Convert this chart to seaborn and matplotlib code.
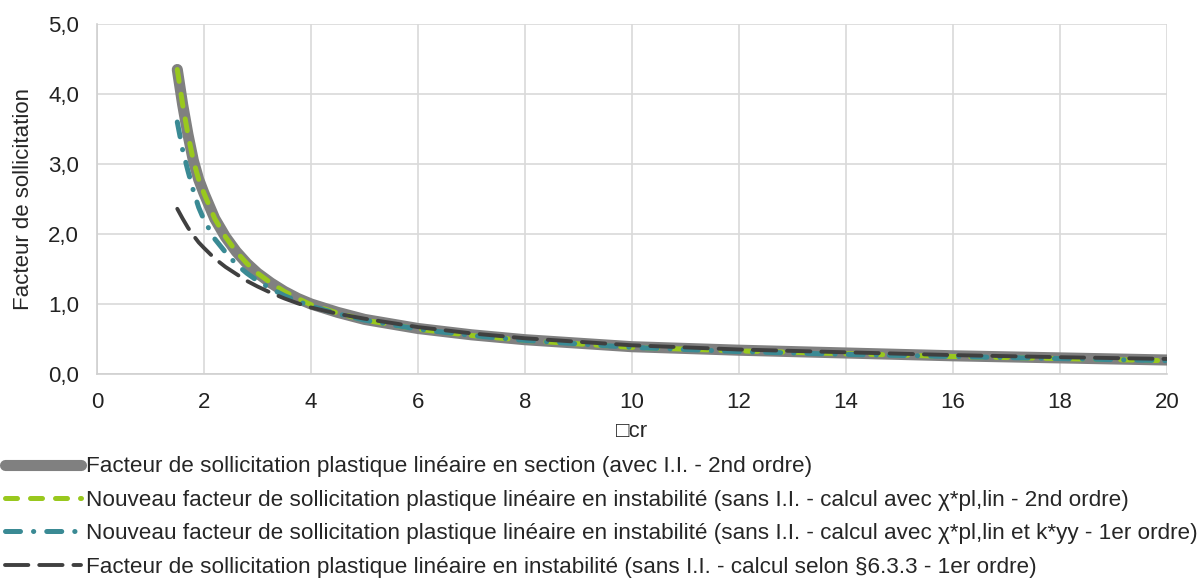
import numpy as np
import matplotlib
matplotlib.use("Agg")
import matplotlib.pyplot as plt
import matplotlib.ticker as mticker
import pandas as pd
import seaborn as sns

# values
alpha_cr = [1.5, 1.6, 1.7, 1.8, 1.9, 2.0, 2.2, 2.4, 2.6, 2.8, 3.0, 3.25, 3.5, 3.75, 4.0,
            4.5, 5, 6, 7, 8, 10, 12, 14, 16, 18, 20]
section_2nd = [4.35, 3.85, 3.42, 3.05, 2.78, 2.58, 2.22, 1.96, 1.75, 1.58, 1.44, 1.30, 1.18, 1.08, 1.0,
               0.88, 0.78, 0.65, 0.56, 0.49, 0.39, 0.34, 0.30, 0.26, 0.23, 0.20]
instab_chi_2nd = [4.35, 3.85, 3.42, 3.05, 2.78, 2.58, 2.22, 1.96, 1.75, 1.58, 1.44, 1.30, 1.18, 1.08, 0.99,
                  0.87, 0.77, 0.64, 0.55, 0.48, 0.38, 0.33, 0.29, 0.25, 0.22, 0.19]
instab_chi_kyy_1er = [3.6, 3.2, 2.9, 2.62, 2.38, 2.2, 1.93, 1.74, 1.57, 1.44, 1.33, 1.22, 1.12, 1.04, 0.97,
                      0.86, 0.77, 0.64, 0.55, 0.48, 0.38, 0.32, 0.28, 0.25, 0.22, 0.19]
instab_633_1er = [2.36, 2.22, 2.09, 1.98, 1.88, 1.80, 1.65, 1.53, 1.43, 1.33, 1.25, 1.16, 1.08, 1.01, 0.95,
                  0.86, 0.79, 0.67, 0.58, 0.51, 0.41, 0.35, 0.31, 0.27, 0.24, 0.215]

labels = [
    "Facteur de sollicitation plastique linéaire en section (avec I.I. - 2nd ordre)",
    "Nouveau facteur de sollicitation plastique linéaire en instabilité (sans I.I. - calcul avec χ*pl,lin - 2nd ordre)",
    "Nouveau facteur de sollicitation plastique linéaire en instabilité (sans I.I. - calcul avec χ*pl,lin et k*yy - 1er ordre)",
    "Facteur de sollicitation plastique linéaire en instabilité (sans I.I. - calcul selon §6.3.3 - 1er ordre)",
]

sns.set_style("white")
plt.rcParams['font.family'] = ['Liberation Sans', 'DejaVu Sans']

fig = plt.figure(figsize=(12.01, 5.83), dpi=100)
ax = fig.add_axes([0.0808, 0.3585, 0.8909, 0.6003])

sns.lineplot(x=alpha_cr, y=section_2nd, ax=ax, color="#808080", linewidth=8,
             solid_capstyle="round", solid_joinstyle="round", label=labels[0])
sns.lineplot(x=alpha_cr, y=instab_chi_2nd, ax=ax, color="#99c81e", linewidth=3.6,
             linestyle=(0, (2.4, 2.6)), dash_capstyle="round", label=labels[1])
sns.lineplot(x=alpha_cr, y=instab_chi_kyy_1er, ax=ax, color="#3a8a94", linewidth=3.6,
             linestyle=(0, (3.0, 2.6, 0.05, 2.6)), dash_capstyle="round", label=labels[2])
sns.lineplot(x=alpha_cr, y=instab_633_1er, ax=ax, color="#404040", linewidth=2.8,
             linestyle=(0, (6.0, 2.8)), dash_capstyle="round", label=labels[3])

ax.set_xlim(0, 20)
ax.set_ylim(0, 5)
ax.set_xticks(np.arange(0, 21, 2))
ax.set_yticks(np.arange(0, 5.1, 1))
ax.yaxis.set_major_formatter(mticker.FuncFormatter(lambda v, p: f"{v:.1f}".replace(".", ",")))
ax.grid(True, color="#d9d9d9", linewidth=1.2)
ax.set_axisbelow(True)
for s in ["top", "right"]:
    ax.spines[s].set_visible(False)
for s in ["left", "bottom"]:
    ax.spines[s].set_color("#d0d0d0")
    ax.spines[s].set_linewidth(1.2)
ax.tick_params(axis="both", length=0, labelsize=16, colors="#222222")
ax.tick_params(axis="x", pad=13)
ax.tick_params(axis="y", pad=13)

ax.set_xlabel("\u25a1cr", fontsize=16, labelpad=6)
ax.set_ylabel("Facteur de sollicitation", fontsize=16, labelpad=10)

handles, labs = ax.get_legend_handles_labels()
ax.get_legend().remove()
fig.legend(handles, labs, loc="upper left", bbox_to_anchor=(0.0, 0.2247),
           frameon=False, fontsize=16.2, handlelength=3.4, handletextpad=0.22,
           labelspacing=0.55, borderaxespad=0.0, borderpad=0.2)

plt.savefig("out.png", dpi=100)
